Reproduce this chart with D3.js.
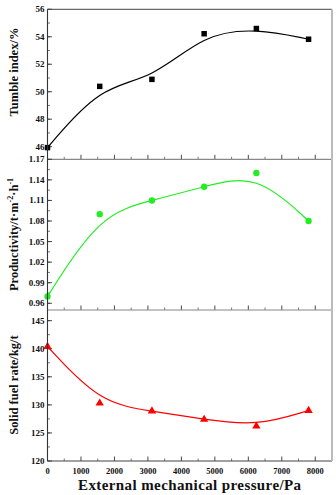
<!DOCTYPE html>
<html>
<head>
<meta charset="utf-8">
<script src="https://cdn.jsdelivr.net/npm/d3@7"></script>
<style>
  body { margin: 0; background: #fff; }
  text { font-family: "Liberation Serif", "Times New Roman", serif; font-weight: bold; }
</style>
</head>
<body>
<div id="chart"></div>
<script>
// data
var pressure = [0, 1560, 3120, 4680, 6240, 7800];
var tumble = [45.93, 50.39, 50.9, 54.22, 54.6, 53.82];
var productivity = [0.970, 1.090, 1.110, 1.130, 1.150, 1.080];
var fuelRate = [140.4, 130.3, 128.9, 127.4, 126.2, 129.0];

var xTicks = [0, 1000, 2000, 3000, 4000, 5000, 6000, 7000, 8000];
var tumbleTicks = [46, 48, 50, 52, 54, 56];
var prodTicks = [0.96, 0.99, 1.02, 1.05, 1.08, 1.11, 1.14, 1.17];
var fuelTicks = [120, 125, 130, 135, 140, 145];

var width = 336, height = 495;
var left = 47.5, right = 332;

var svg = d3.select("#chart").append("svg")
  .attr("width", width)
  .attr("height", height);

var x = d3.scaleLinear().domain([0, 8500]).range([left, right]);

var panels = [
  { top: 9.3, bottom: 159.3, domain: [45.08, 56], ticks: tumbleTicks, minor: 1, fmt: d3.format("d"),
    values: tumble, color: "#000", marker: d3.symbolSquare, size: 30 },
  { top: 159.3, bottom: 310, domain: [0.9502, 1.17], ticks: prodTicks, minor: 0.015, fmt: d3.format(".2f"),
    values: productivity, color: "#22ee22", marker: d3.symbolCircle, size: 32 },
  { top: 310, bottom: 461, domain: [120, 146.9], ticks: fuelTicks, minor: 2.5, fmt: d3.format("d"),
    values: fuelRate, color: "#ff0000", marker: d3.symbolTriangle, size: 30 }
];

panels.forEach(function(p, i) {
  var y = d3.scaleLinear().domain(p.domain).range([p.bottom, p.top]);
  var g = svg.append("g");

  // minor y ticks
  var minors = d3.range(p.ticks[0] - p.minor * 4, p.domain[1] + 1e-6, p.minor)
    .filter(function(v) { return v >= p.domain[0] && v <= p.domain[1]; });
  g.selectAll(".ymin").data(minors).enter().append("line")
    .attr("x1", left).attr("x2", left + 2.5)
    .attr("y1", function(d) { return y(d); }).attr("y2", function(d) { return y(d); })
    .attr("stroke", "#555").attr("stroke-width", 0.8);
  g.selectAll(".ymaj").data(p.ticks).enter().append("line")
    .attr("x1", left).attr("x2", left + 4.5)
    .attr("y1", function(d) { return y(d); }).attr("y2", function(d) { return y(d); })
    .attr("stroke", "#333").attr("stroke-width", 0.9);
  g.selectAll(".ylab").data(p.ticks).enter().append("text")
    .attr("x", left - 3)
    .attr("y", function(d) { return y(d) + 3; })
    .attr("text-anchor", "end")
    .attr("font-size", 9)
    .attr("fill", "#111")
    .text(p.fmt);

  // x ticks on the bottom edge of each panel (pointing inward)
  var xMinor = d3.range(500, 8500, 1000);
  g.selectAll(".xmin").data(xMinor).enter().append("line")
    .attr("x1", function(d) { return x(d); }).attr("x2", function(d) { return x(d); })
    .attr("y1", p.bottom).attr("y2", p.bottom - 2.5)
    .attr("stroke", "#555").attr("stroke-width", 0.8);
  g.selectAll(".xmaj").data(xTicks).enter().append("line")
    .attr("x1", function(d) { return x(d); }).attr("x2", function(d) { return x(d); })
    .attr("y1", p.bottom).attr("y2", p.bottom - 4.5)
    .attr("stroke", "#333").attr("stroke-width", 0.9);

  // fitted curve (B-spline through data as control points)
  var pts = pressure.map(function(v, k) { return [x(v), y(p.values[k])]; });
  g.append("path")
    .attr("d", d3.line().curve(d3.curveBasis)(pts))
    .attr("fill", "none")
    .attr("stroke", p.color)
    .attr("stroke-width", 1.2);

  g.selectAll(".pt").data(pts).enter().append("path")
    .attr("transform", function(d) { return "translate(" + d[0] + "," + d[1] + ")"; })
    .attr("d", d3.symbol().type(p.marker).size(p.size))
    .attr("fill", p.color);

  // panel separator / bottom line
  svg.append("line")
    .attr("x1", left).attr("x2", right)
    .attr("y1", p.bottom).attr("y2", p.bottom)
    .attr("stroke", i < 2 ? "#888" : "#444")
    .attr("stroke-width", 1.2);
});

// frame
svg.append("line").attr("x1", left).attr("x2", right).attr("y1", 9.3).attr("y2", 9.3)
  .attr("stroke", "#444").attr("stroke-width", 1);
svg.append("line").attr("x1", left).attr("x2", left).attr("y1", 9.3).attr("y2", 461)
  .attr("stroke", "#333").attr("stroke-width", 1.1);
svg.append("line").attr("x1", right).attr("x2", right).attr("y1", 9.3).attr("y2", 461)
  .attr("stroke", "#bbb").attr("stroke-width", 2);

// x tick labels
svg.selectAll(".xlab").data(xTicks).enter().append("text")
  .attr("x", function(d) { return x(d); })
  .attr("y", 474)
  .attr("text-anchor", "middle")
  .attr("font-size", 8.5)
  .attr("fill", "#111")
  .text(function(d) { return d; });

svg.append("text")
  .attr("x", (left + right) / 2)
  .attr("y", 490)
  .attr("text-anchor", "middle")
  .attr("font-size", 15)
  .attr("letter-spacing", 0.4)
  .attr("fill", "#111")
  .text("External mechanical pressure/Pa");

// y titles
function yTitle(cy) {
  return svg.append("text")
    .attr("transform", "translate(18," + cy + ") rotate(-90)")
    .attr("text-anchor", "middle")
    .attr("font-size", 12.5)
    .attr("fill", "#111");
}
yTitle(72).text("Tumble index/%");
var pt = yTitle(234.5);
pt.append("tspan").text("Productivity/t\u00b7m");
pt.append("tspan").attr("font-size", 8).attr("dy", -5).text("-2");
pt.append("tspan").attr("dy", 5).text("\u00b7h");
pt.append("tspan").attr("font-size", 8).attr("dy", -5).text("-1");
yTitle(385).text("Solid fuel rate/kg/t");
</script>
</body>
</html>
